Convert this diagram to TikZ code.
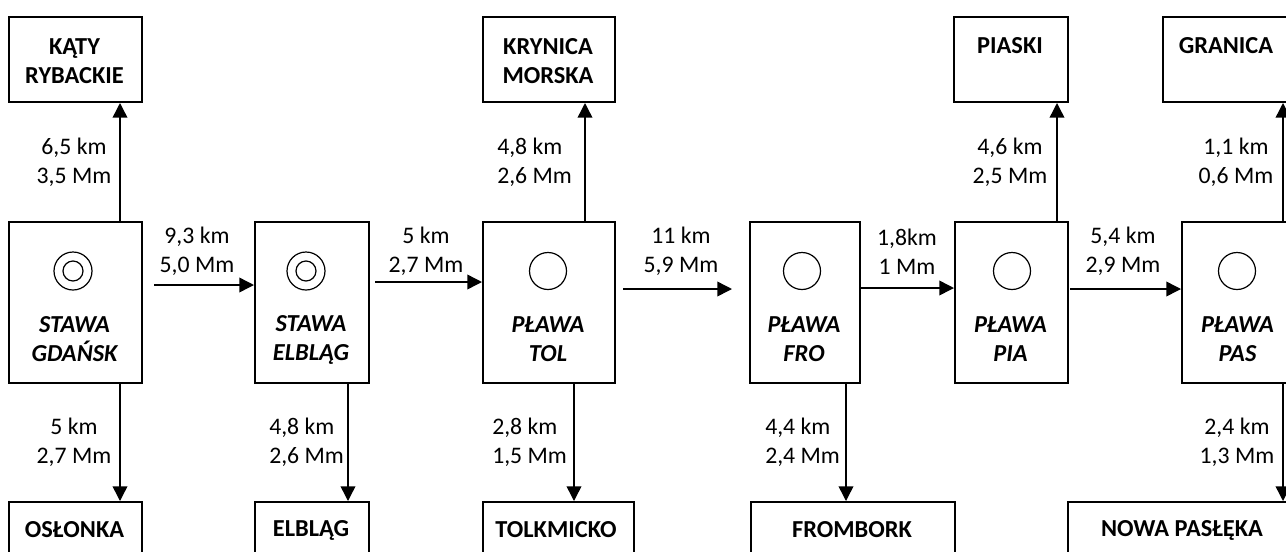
\documentclass[tikz,border=0pt]{standalone}
\usepackage{fontspec}
\setmainfont{Carlito}
\usetikzlibrary{arrows.meta,calc}
\begin{document}
\begin{tikzpicture}[x=0.75pt,y=-0.75pt,
  box/.style={draw,line width=1.5pt,inner sep=0pt,anchor=north west},
  sz/.style 2 args={minimum width=#1*0.75pt,minimum height=#2*0.75pt},
  arr/.style={line width=1.1pt,-{Triangle[length=11pt,width=11pt]}},
  lbl/.style={font=\fontsize{17.8}{21.75}\selectfont,inner sep=0pt,align=center},
  lbll/.style={lbl,align=left,anchor=west},
  place/.style={font=\fontsize{18.3}{21.75}\selectfont\bfseries,inner sep=0pt,align=center},
  buoy/.style={font=\fontsize{18.3}{21.75}\selectfont\bfseries\itshape,inner sep=0pt,align=center},
  ring/.style={draw,circle,line width=0.9pt,inner sep=0pt,minimum size=#1*0.75pt}
]
\clip (0,0) rectangle (1286,551);
\useasboundingbox (0,0) rectangle (1286,551);

% top boxes
\node[box,sz={133}{85}] (katy) at (8,16) {};
\node[box,sz={132}{85}] (kryn) at (482,16) {};
\node[box,sz={114}{85}] (pias) at (953,16) {};
\node[box,sz={130}{85}] (gran) at (1162,16) {};
\node[place] (tkaty) at (74.5,61) {KĄTY\\RYBACKIE};
\node[place] (tkryn) at (548,61) {KRYNICA\\MORSKA};
\node[place] (tpias) at (1010,46) {PIASKI};
\node[place] (tgran) at (1226,46) {GRANICA};

% main boxes
\node[box,sz={133}{161}] (gd) at (8,221) {};
\node[box,sz={114}{161}] (el) at (254,221) {};
\node[box,sz={132}{161}] (tol) at (482,221) {};
\node[box,sz={110}{161}] (fro) at (749,221) {};
\node[box,sz={113}{161}] (pia) at (954,221) {};
\node[box,sz={113}{161}] (pas) at (1181,221) {};

\node[ring=38] (c1o) at (73,271) {};
\node[ring=20] (c1i) at (73,271) {};
\node[ring=38] (c2o) at (306,271) {};
\node[ring=20] (c2i) at (306,271) {};
\node[ring=37] (c3) at (548,271) {};
\node[ring=37] (c4) at (802,271) {};
\node[ring=37] (c5) at (1012,271) {};
\node[ring=37] (c6) at (1237,271) {};

\node[buoy] (tgd) at (74.5,339.5) {STAWA\\GDAŃSK};
\node[buoy] (tel) at (311,339.5) {STAWA\\ELBLĄG};
\node[buoy] (ttol) at (548,339.5) {PŁAWA\\TOL};
\node[buoy] (tfro) at (804,339.5) {PŁAWA\\FRO};
\node[buoy] (tpia) at (1010.5,339.5) {PŁAWA\\PIA};
\node[buoy] (tpas) at (1237.5,339.5) {PŁAWA\\PAS};

% bottom boxes
\node[box,sz={133}{80}] (osl) at (8,501) {};
\node[box,sz={114}{80}] (elb) at (254,501) {};
\node[box,sz={151}{80}] (tolk) at (482,501) {};
\node[box,sz={204}{80}] (from) at (750,501) {};
\node[box,sz={230}{80}] (nowa) at (1067,501) {};
\node[place] (tosl) at (74.5,530) {OSŁONKA};
\node[place] (telb) at (311,530) {ELBLĄG};
\node[place] (ttolk) at (556,530) {TOLKMICKO};
\node[place] (tfrom) at (852,530) {FROMBORK};
\node[place] (tnowa) at (1182,530) {NOWA PASŁĘKA};

% vertical arrow x positions
\coordinate (u1) at (120,0);
\coordinate (u2) at (585,0);
\coordinate (u3) at (1057,0);
\coordinate (u4) at (1283,0);
\coordinate (d1) at (120,0);
\coordinate (d2) at (348,0);
\coordinate (d3) at (574,0);
\coordinate (d4) at (846,0);
\coordinate (d5) at (1283,0);

\draw[arr] (gd.north -| u1) -- (katy.south -| u1);
\draw[arr] (tol.north -| u2) -- (kryn.south -| u2);
\draw[arr] (pia.north -| u3) -- (pias.south -| u3);
\draw[arr] (pas.north -| u4) -- (gran.south -| u4);

\draw[arr] (gd.south -| d1) -- (osl.north -| d1);
\draw[arr] (el.south -| d2) -- (elb.north -| d2);
\draw[arr] (tol.south -| d3) -- (tolk.north -| d3);
\draw[arr] (fro.south -| d4) -- (from.north -| d4);
\draw[arr] (pas.south -| d5) -- (nowa.north -| d5);

% horizontal arrows
\coordinate (h1) at (154,285);
\coordinate (h2) at (375,282);
\coordinate (h3s) at (623,289);
\coordinate (h3e) at (732,289);
\coordinate (h4) at (861,288);
\coordinate (h5) at (1070,289);
\draw[arr] (h1) -- (h1 -| el.west);
\draw[arr] (h2) -- (h2 -| tol.west);
\draw[arr] (h3s) -- (h3e);
\draw[arr] (h4) -- (h4 -| pia.west);
\draw[arr] (h5) -- (h5 -| pas.west);

% labels up
\node[lbl] (l1) at (74,162.5) {6,5 km\\3,5 Mm};
\node[lbll] (l2) at (497,162.5) {4,8 km\\2,6 Mm};
\node[lbl] (l3) at (1010,162.5) {4,6 km\\2,5 Mm};
\node[lbl] (l4) at (1236,162.5) {1,1 km\\0,6 Mm};
% labels horizontal
\node[lbl] (l5) at (197,251.5) {9,3 km\\5,0 Mm};
\node[lbl] (l6) at (426,251.5) {5 km\\2,7 Mm};
\node[lbl] (l7) at (681,251.5) {11 km\\5,9 Mm};
\node[lbl] (l8) at (907,251.5) {1,8km\\1 Mm};
\node[lbl] (l9) at (1123,251.5) {5,4 km\\2,9 Mm};
% labels down
\node[lbl] (l10) at (74,442) {5 km\\2,7 Mm};
\node[lbll] (l11) at (269,442) {4,8 km\\2,6 Mm};
\node[lbll] (l12) at (492,442) {2,8 km\\1,5 Mm};
\node[lbll] (l13) at (765,442) {4,4 km\\2,4 Mm};
\node[lbl] (l14) at (1237,442) {2,4 km\\1,3 Mm};
\end{tikzpicture}
\end{document}
